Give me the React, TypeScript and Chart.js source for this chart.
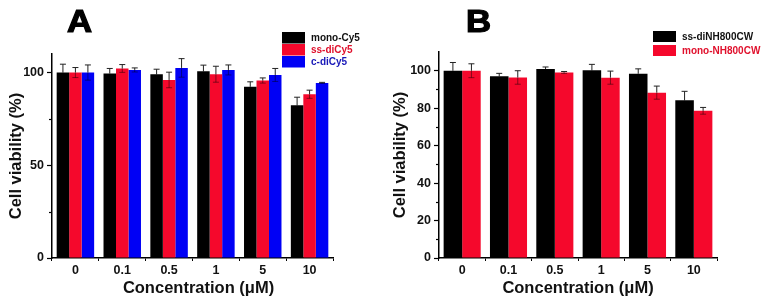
import React, { useEffect, useRef } from "react";
import { Chart, registerables } from "chart.js";
Chart.register(...registerables);

// ---------- data ----------
const categories = ["0", "0.1", "0.5", "1", "5", "10"];

// Panel A
const monoCy5 = [100, 99.5, 99.1, 100.7, 92.3, 82.4];
const monoCy5Err = [4.5, 2.7, 2.7, 3.3, 2.7, 4.3];
const ssDiCy5 = [100, 102.2, 96.0, 99.1, 95.7, 88.3];
const ssDiCy5Err = [2.7, 2.1, 4.2, 4.3, 1.4, 2.2];
const cDiCy5 = [100, 101.4, 102.5, 101.4, 98.7, 94.4];
const cDiCy5Err = [4.1, 1.1, 5.0, 2.7, 3.5, 0.3];

// Panel B
const ssDiNH800CW = [100, 97.0, 100.9, 100.2, 98.4, 84.2];
const ssDiNH800CWErr = [4.4, 1.6, 1.1, 3.2, 2.6, 4.8];
const monoNH800CW = [100, 96.4, 99.1, 96.3, 88.3, 78.6];
const monoNH800CWErr = [3.7, 3.6, 0.5, 3.5, 3.5, 1.8];

const yMajorA = [0, 50, 100];
const yMinorA = [25, 75];
const yMajorB = [0, 20, 40, 60, 80, 100];
const yMinorB = [10, 30, 50, 70, 90];

const xTitle = "Concentration (μM)";
const yTitle = "Cell viability (%)";

const BLACK = "#000000";
const RED = "#f5082c";
const BLUE = "#0000f5";
const FONT = "Arial, 'Liberation Sans', sans-serif";

type PanelCfg = {
  letter: string;
  letterX: number;
  letterY: number;
  series: { label: string; data: number[]; err: number[]; color: string; textColor: string }[];
  major: number[];
  minor: number[];
  padding: { left: number; right: number; top: number; bottom: number };
  yWidth: number;
  legendX: number;
  legendY: number;
  legendBoxH: number;
  legendGap: number;
  yTitlePad: number;
  xTitleShift: number;
};

function decorPlugin(cfg: PanelCfg) {
  return {
    id: "decor",
    afterDatasetsDraw(chart: any) {
      const ctx = chart.ctx;
      const y = chart.scales.y;
      ctx.save();
      chart.data.datasets.forEach((ds: any, i: number) => {
        const meta = chart.getDatasetMeta(i);
        const errs = cfg.series[i].err;
        meta.data.forEach((bar: any, j: number) => {
          const v = ds.data[j];
          const e = errs[j];
          const x = bar.x;
          const yTop = y.getPixelForValue(v + e);
          const yVal = y.getPixelForValue(v);
          const yBot = y.getPixelForValue(v - e);
          ctx.lineWidth = 1;
          ctx.strokeStyle = "rgba(0,0,0,0.45)";
          ctx.beginPath();
          ctx.moveTo(x, yVal);
          ctx.lineTo(x, yBot);
          ctx.moveTo(x - 3, yBot);
          ctx.lineTo(x + 3, yBot);
          ctx.stroke();
          ctx.strokeStyle = "#222";
          ctx.beginPath();
          ctx.moveTo(x, yVal);
          ctx.lineTo(x, yTop);
          ctx.moveTo(x - 3, yTop);
          ctx.lineTo(x + 3, yTop);
          ctx.stroke();
        });
      });
      ctx.restore();
    },
    afterDraw(chart: any) {
      const ctx = chart.ctx;
      const y = chart.scales.y;
      const xs = chart.scales.x;
      const left = chart.chartArea.left;
      ctx.save();
      // minor ticks
      ctx.strokeStyle = BLACK;
      ctx.lineWidth = 1.2;
      cfg.minor.forEach((v) => {
        const py = Math.round(y.getPixelForValue(v)) + 0.5;
        ctx.beginPath();
        ctx.moveTo(left - 3, py);
        ctx.lineTo(left, py);
        ctx.stroke();
      });
      // x axis title
      ctx.fillStyle = "#111";
      ctx.font = `bold 16.5px ${FONT}`;
      ctx.textAlign = "center";
      ctx.textBaseline = "middle";
      ctx.fillText(xTitle, (xs.left + xs.right) / 2 + cfg.xTitleShift, 288);
      // legend
      ctx.font = `bold 10px ${FONT}`;
      ctx.textBaseline = "middle";
      ctx.textAlign = "left";
      cfg.series.forEach((s, i) => {
        const by = cfg.legendY + i * (cfg.legendBoxH + cfg.legendGap);
        ctx.fillStyle = s.color;
        ctx.fillRect(cfg.legendX, by, 23, cfg.legendBoxH);
        ctx.fillStyle = s.textColor;
        ctx.fillText(s.label, cfg.legendX + 29, by + cfg.legendBoxH / 2 + 0.5);
      });
      // panel letter
      ctx.fillStyle = BLACK;
      ctx.font = `bold 31px ${FONT}`;
      ctx.textBaseline = "alphabetic";
      ctx.save();
      ctx.translate(cfg.letterX, cfg.letterY);
      ctx.scale(1.12, 1);
      ctx.lineWidth = 1.2;
      ctx.strokeStyle = BLACK;
      ctx.fillText(cfg.letter, 0, 0);
      ctx.strokeText(cfg.letter, 0, 0);
      ctx.restore();
      ctx.restore();
    },
  };
}

function makeConfig(cfg: PanelCfg): any {
  const majorSet = cfg.major;
  return {
    type: "bar",
    data: {
      labels: categories,
      datasets: cfg.series.map((s) => ({
        label: s.label,
        data: s.data,
        backgroundColor: s.color,
        borderWidth: 0,
        categoryPercentage: 0.8,
        barPercentage: 1,
      })),
    },
    options: {
      responsive: false,
      animation: false,
      devicePixelRatio: 1,
      layout: { padding: cfg.padding },
      plugins: {
        legend: { display: false },
        tooltip: { enabled: false },
      },
      scales: {
        x: {
          type: "category",
          offset: true,
          grid: {
            display: true,
            drawOnChartArea: false,
            offset: true,
            tickLength: 3,
            tickColor: BLACK,
            tickWidth: 1,
          },
          border: { display: true, color: BLACK, width: 1.5 },
          ticks: {
            color: "#111",
            padding: 2,
            font: { family: FONT, size: 12.5, weight: "bold" },
            maxRotation: 0,
          },
          title: { display: false },
          afterFit: (scale: any) => {
            scale.height = 45;
          },
        },
        y: {
          type: "linear",
          min: 0,
          max: 110,
          afterBuildTicks: (scale: any) => {
            scale.ticks = majorSet.map((v) => ({ value: v }));
          },
          grid: {
            display: true,
            drawOnChartArea: false,
            tickLength: 5,
            tickColor: BLACK,
            tickWidth: 1.2,
          },
          border: { display: true, color: BLACK, width: 1.5 },
          ticks: {
            color: "#111",
            padding: 3,
            font: { family: FONT, size: 12.5, weight: "bold" },
          },
          title: {
            display: true,
            text: yTitle,
            color: "#111",
            font: { family: FONT, size: 16.5, weight: "bold", lineHeight: 1.2 },
            padding: { top: cfg.yTitlePad, bottom: 0 },
          },
          afterFit: (scale: any) => {
            scale.width = cfg.yWidth;
          },
        },
      },
    },
    plugins: [decorPlugin(cfg)],
  };
}

const panelA: PanelCfg = {
  letter: "A",
  letterX: 67,
  letterY: 32,
  series: [
    { label: "mono-Cy5", data: monoCy5, err: monoCy5Err, color: BLACK, textColor: "#111" },
    { label: "ss-diCy5", data: ssDiCy5, err: ssDiCy5Err, color: RED, textColor: "#e0102c" },
    { label: "c-diCy5", data: cDiCy5, err: cDiCy5Err, color: BLUE, textColor: "#1818b8" },
  ],
  major: yMajorA,
  minor: yMinorA,
  padding: { left: 0, right: 47, top: 54, bottom: 0 },
  yWidth: 52,
  legendX: 282,
  legendY: 32,
  legendBoxH: 11.5,
  legendGap: 0.5,
  yTitlePad: 7,
  xTitleShift: 6,
};

const panelB: PanelCfg = {
  letter: "B",
  letterX: 86,
  letterY: 32,
  series: [
    { label: "ss-diNH800CW", data: ssDiNH800CW, err: ssDiNH800CWErr, color: BLACK, textColor: "#111" },
    { label: "mono-NH800CW", data: monoNH800CW, err: monoNH800CWErr, color: RED, textColor: "#e0102c" },
  ],
  major: yMajorB,
  minor: yMinorB,
  padding: { left: 0, right: 46, top: 52, bottom: 0 },
  yWidth: 59,
  legendX: 273,
  legendY: 31,
  legendBoxH: 11,
  legendGap: 3,
  yTitlePad: 11,
  xTitleShift: 0,
};

function Panel({ cfg, left, width }: { cfg: PanelCfg; left: number; width: number }) {
  const ref = useRef<HTMLCanvasElement | null>(null);
  useEffect(() => {
    if (!ref.current) return;
    const chart = new Chart(ref.current, makeConfig(cfg));
    return () => chart.destroy();
  }, []);
  return (
    <div style={{ position: "absolute", left, top: 0, width, height: 303 }}>
      <canvas ref={ref} width={width} height={303} style={{ display: "block", width, height: 303 }} />
    </div>
  );
}

export default function App() {
  return (
    <div style={{ position: "absolute", left: 0, top: 0, width: 763, height: 303, background: "#ffffff", overflow: "hidden" }}>
      <Panel cfg={panelA} left={0} width={380} />
      <Panel cfg={panelB} left={380} width={383} />
    </div>
  );
}
